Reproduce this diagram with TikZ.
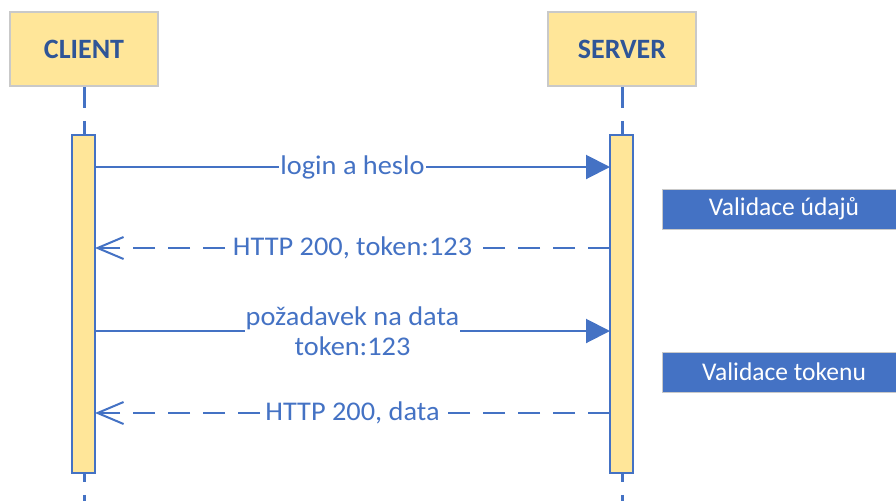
\documentclass[tikz,border=0pt]{standalone}
\usepackage{fontspec}
\setmainfont{Carlito}
\newfontfamily\lblfont[FakeStretch=1.05]{Carlito}
\usetikzlibrary{arrows.meta}
\definecolor{msgblue}{HTML}{4472C4}
\definecolor{headblue}{HTML}{2F5597}
\definecolor{boxyellow}{HTML}{FFE699}
\definecolor{boxgray}{HTML}{C9C9C9}
\tikzset{
  actor/.style={draw=boxgray, line width=1.5pt, fill=boxyellow, minimum width=148pt,
    minimum height=74pt, inner sep=0pt, text=headblue,
    font=\fontsize{28}{30}\selectfont\bfseries},
  lifeline/.style={draw=msgblue, line width=3pt, dash pattern=on 21pt off 13pt},
  activation/.style={draw=msgblue, line width=2pt, fill=boxyellow},
  call/.style={draw=msgblue, line width=2pt, -{Triangle[length=24pt,width=24pt]}},
  reply/.style={draw=msgblue, line width=2pt, dash pattern=on 22pt off 13pt,
    -{Straight Barb[length=26pt,width=22pt,line width=2pt]}},
  msglabel/.style={fill=white, text=msgblue, inner sep=1pt, align=center,
    font=\lblfont\fontsize{27}{30}\selectfont},
  note/.style={draw=boxgray, line width=1pt, fill=msgblue, text=white,
    minimum width=244pt, minimum height=40pt, inner sep=0pt,
    font=\fontsize{25.5}{28}\selectfont}
}
\begin{document}
\begin{tikzpicture}[x=1pt, y=-1pt]
\useasboundingbox (0,0) rectangle (896,501);

% participants
\node[actor] (client) at (84,49) {CLIENT};
\node[actor] (server) at (622,49) {SERVER};

% lifelines
\coordinate (cend) at (84,501);
\coordinate (send) at (622,501);
\draw[lifeline] (client.south) -- (cend);
\draw[lifeline] (server.south) -- (send);

% activation bars
\draw[activation] (72,135) rectangle (95,473);
\draw[activation] (610,135) rectangle (633,473);
\coordinate (c1) at (95,167);  \coordinate (s1) at (610,167);
\coordinate (c2) at (95,248);  \coordinate (s2) at (610,248);
\coordinate (c3) at (95,331);  \coordinate (s3) at (610,331);
\coordinate (c4) at (95,413);  \coordinate (s4) at (610,413);

% messages
\draw[call] (c1) -- node[msglabel] (m1) {login a heslo} (s1);
\draw[reply] (s2) -- node[msglabel] (m2) {HTTP 200, token:123} (c2);
\draw[call] (c3) -- node[msglabel] (m3) {požadavek na data\\token:123} (s3);
\draw[reply] (s4) -- node[msglabel] (m4) {HTTP 200, data} (c4);

% server-side notes
\node[note] (n1) at (784,209) {Validace údajů};
\node[note] (n2) at (784,372) {Validace tokenu};
\end{tikzpicture}
\end{document}
